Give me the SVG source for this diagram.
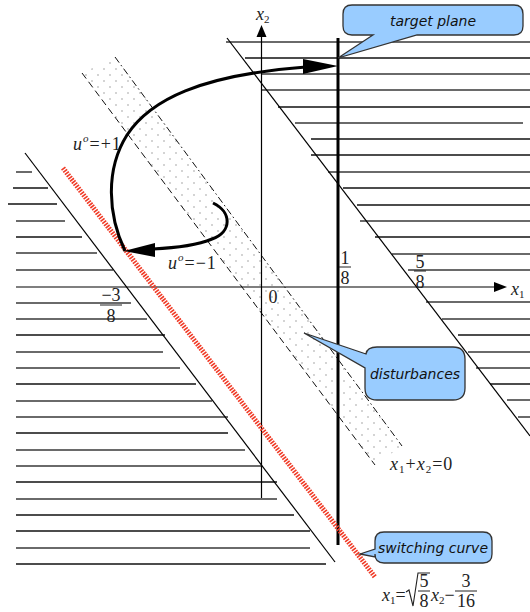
<svg xmlns="http://www.w3.org/2000/svg" width="530" height="612" viewBox="0 0 530 612">
<defs>
<style>
.hb{stroke:#111;stroke-width:1.3}
.hg{stroke:#6a6a6a;stroke-width:2}
.bd{stroke:#000;stroke-width:1.2;fill:none}
.m{font-family:"Liberation Serif",serif;font-size:18px;fill:#222}
.sp{letter-spacing:1px}
.i{font-style:italic}
.sub{font-size:11px}
.call{fill:#99ccff;stroke:#333;stroke-width:1.3}
.ct{font-family:"DejaVu Sans",sans-serif;font-style:italic;font-size:14px;fill:#111;text-anchor:middle}
.traj{fill:none;stroke:#000;stroke-width:3}
.fb{stroke:#222;stroke-width:1}
</style>
<pattern id="dots" width="12" height="12" patternUnits="userSpaceOnUse">
<circle cx="2" cy="3" r="0.7" fill="#888"/>
<circle cx="8" cy="9" r="0.7" fill="#888"/>
</pattern>
</defs>
<rect width="530" height="612" fill="#fff"/>

<g id="hatch-left">
<line class="hg" x1="16" y1="172" x2="32" y2="172"/>
<line class="hb" x1="13" y1="188" x2="48" y2="188"/>
<line class="hb" x1="8" y1="204" x2="57" y2="204"/>
<line class="hg" x1="16" y1="221" x2="65" y2="221"/>
<line class="hb" x1="16" y1="237" x2="82" y2="237"/>
<line class="hg" x1="16" y1="253" x2="97" y2="253"/>
<line class="hg" x1="16" y1="270" x2="113" y2="270"/>
<line class="hg" x1="16" y1="303" x2="131" y2="303"/>
<line class="hg" x1="16" y1="319" x2="147" y2="319"/>
<line class="hb" x1="16" y1="335" x2="165" y2="335"/>
<line class="hg" x1="16" y1="352" x2="163" y2="352"/>
<line class="hg" x1="16" y1="368" x2="180" y2="368"/>
<line class="hb" x1="16" y1="384" x2="196" y2="384"/>
<line class="hg" x1="16" y1="401" x2="212" y2="401"/>
<line class="hg" x1="16" y1="417" x2="228" y2="417"/>
<line class="hb" x1="16" y1="433" x2="228" y2="433"/>
<line class="hg" x1="16" y1="450" x2="245" y2="450"/>
<line class="hg" x1="16" y1="466" x2="261" y2="466"/>
<line class="hb" x1="16" y1="482" x2="277" y2="482"/>
<line class="hg" x1="16" y1="499" x2="277" y2="499"/>
<line class="hb" x1="16" y1="515" x2="294" y2="515"/>
<line class="hb" x1="16" y1="531" x2="310" y2="531"/>
<line class="hg" x1="16" y1="548" x2="310" y2="548"/>
<line class="hb" x1="16" y1="564" x2="326" y2="564"/>
</g>

<g id="hatch-right">
<line class="hg" x1="226" y1="42" x2="530" y2="42"/>
<line class="hb" x1="245" y1="58" x2="530" y2="58"/>
<line class="hg" x1="262" y1="74" x2="530" y2="74"/>
<line class="hg" x1="262" y1="90" x2="530" y2="90"/>
<line class="hb" x1="278" y1="107" x2="530" y2="107"/>
<line class="hg" x1="295" y1="123" x2="523" y2="123"/>
<line class="hb" x1="311" y1="139" x2="530" y2="139"/>
<line class="hb" x1="311" y1="155" x2="530" y2="155"/>
<line class="hg" x1="328" y1="172" x2="530" y2="172"/>
<line class="hb" x1="343" y1="188" x2="530" y2="188"/>
<line class="hb" x1="357" y1="205" x2="530" y2="205"/>
<line class="hg" x1="360" y1="221" x2="530" y2="221"/>
<line class="hb" x1="375" y1="237" x2="530" y2="237"/>
<line class="hg" x1="392" y1="254" x2="530" y2="254"/>
<line class="hg" x1="408" y1="270" x2="530" y2="270"/>
<line class="hg" x1="426" y1="302" x2="530" y2="302"/>
<line class="hg" x1="442" y1="319" x2="530" y2="319"/>
<line class="hb" x1="458" y1="335" x2="530" y2="335"/>
<line class="hg" x1="468" y1="352" x2="530" y2="352"/>
<line class="hg" x1="476" y1="368" x2="530" y2="368"/>
<line class="hb" x1="490" y1="384" x2="530" y2="384"/>
<line class="hg" x1="507" y1="400" x2="530" y2="400"/>
<line class="hg" x1="518" y1="417" x2="530" y2="417"/>
</g>

<g id="disturbance-band">
<polygon points="82,73 115,57 402,446 375,465" fill="url(#dots)"/>
<line x1="82" y1="73" x2="375" y2="465" stroke="#111" stroke-width="1" stroke-dasharray="7 4"/>
<line x1="115" y1="57" x2="402" y2="446" stroke="#111" stroke-width="1" stroke-dasharray="7 3 1.5 3"/>
</g>

<g id="boundaries">
<line class="bd" x1="25" y1="153" x2="335" y2="562"/>
<line class="bd" x1="227" y1="38" x2="530" y2="436"/>
</g>

<g id="axes">
<line x1="16" y1="287" x2="496" y2="287" stroke="#000" stroke-width="1.2"/>
<polygon points="507,287 494,282 494,292" fill="#000"/>
<line x1="261.5" y1="498" x2="261.5" y2="36" stroke="#000" stroke-width="1.2"/>
<polygon points="261.5,25 256.5,37 266.5,37" fill="#000"/>
<text class="m" x="256" y="20"><tspan class="i">x</tspan><tspan class="sub" dy="3">2</tspan></text>
<text class="m" x="511" y="295"><tspan class="i">x</tspan><tspan class="sub" dy="3">1</tspan></text>
<text class="m" x="273" y="303" text-anchor="middle">0</text>
</g>

<g id="target-plane-line">
<line x1="338" y1="38" x2="338" y2="545" stroke="#000" stroke-width="3"/>
</g>

<g id="switching-curve-line">
<line x1="63" y1="168" x2="375" y2="577" stroke="#f03a26" stroke-width="5" stroke-dasharray="1.6 1.2"/>
</g>

<g id="tick-labels">
<text class="m" x="345" y="264" text-anchor="middle">1</text>
<line class="fb" x1="339" y1="267" x2="351" y2="267"/>
<text class="m" x="345" y="284" text-anchor="middle">8</text>
<text class="m" x="420" y="268" text-anchor="middle">5</text>
<line class="fb" x1="414" y1="271" x2="426" y2="271"/>
<text class="m" x="420" y="288" text-anchor="middle">8</text>
<text class="m" x="111" y="301" text-anchor="middle">−3</text>
<line class="fb" x1="100" y1="305" x2="122" y2="305"/>
<text class="m" x="111" y="322" text-anchor="middle">8</text>
</g>

<g id="connectors">
<path class="traj" d="M125,251 C108,215 105,170 127,135 C150,100 200,75 306,67"/>
<polygon points="338,66 303,59 303,74" fill="#000"/>
<path class="traj" d="M213,203 C232,212 232,232 212,239 C195,246 175,248 153,249"/>
<polygon points="124,251 155,243 155,257" fill="#000"/>
</g>

<g id="label-uplus">
<text class="m sp" x="73" y="150"><tspan class="i">u</tspan><tspan class="i" style="font-size:11px" dy="-8">o</tspan><tspan dy="8">=+1</tspan></text>
</g>
<g id="label-uminus">
<text class="m sp" x="168" y="269"><tspan class="i">u</tspan><tspan class="i" style="font-size:11px" dy="-8">o</tspan><tspan dy="8">=−1</tspan></text>
</g>
<g id="label-x1x2">
<text class="m sp" x="390" y="470"><tspan class="i">x</tspan><tspan class="sub" dy="3">1</tspan><tspan dy="-3">+</tspan><tspan class="i">x</tspan><tspan class="sub" dy="3">2</tspan><tspan dy="-3">=0</tspan></text>
</g>
<g id="label-switching-formula">
<text class="m" x="382" y="601"><tspan class="i">x</tspan><tspan class="sub" dy="3">1</tspan><tspan dy="-3">=</tspan></text>
<polyline points="406,592 409,590 413,606 418,573 430,573" fill="none" stroke="#222" stroke-width="1.1"/>
<text class="m" x="424" y="587" text-anchor="middle">5</text>
<line class="fb" x1="418" y1="591" x2="430" y2="591"/>
<text class="m" x="424" y="607" text-anchor="middle">8</text>
<text class="m" x="431" y="601"><tspan class="i">x</tspan><tspan class="sub" dy="3">2</tspan><tspan dy="-3">−</tspan></text>
<text class="m" x="466" y="587" text-anchor="middle">3</text>
<line class="fb" x1="455" y1="591" x2="477" y2="591"/>
<text class="m" x="466" y="607" text-anchor="middle">16</text>
</g>

<g id="callout-target-plane">
<path class="call" d="M352,5 H514 Q523,5 523,14 V26 Q523,35 514,35 H417 L338,58 L373,35 H352 Q343,35 343,26 V14 Q343,5 352,5 Z"/>
<text class="ct" x="433" y="26">target plane</text>
</g>
<g id="callout-disturbances">
<path class="call" d="M377,347 H453 Q465,347 465,359 V388 Q465,400 453,400 H377 Q365,400 365,388 V368 L304,333 L366,354 Q367,347 377,347 Z"/>
<text class="ct" x="415" y="379">disturbances</text>
</g>
<g id="callout-switching-curve">
<path class="call" d="M384,532 H483 Q492,532 492,541 V554 Q492,563 483,563 H384 Q375,563 375,554 V557 L360,554 L375,549 V541 Q375,532 384,532 Z"/>
<text class="ct" x="433" y="553">switching curve</text>
</g>
</svg>
